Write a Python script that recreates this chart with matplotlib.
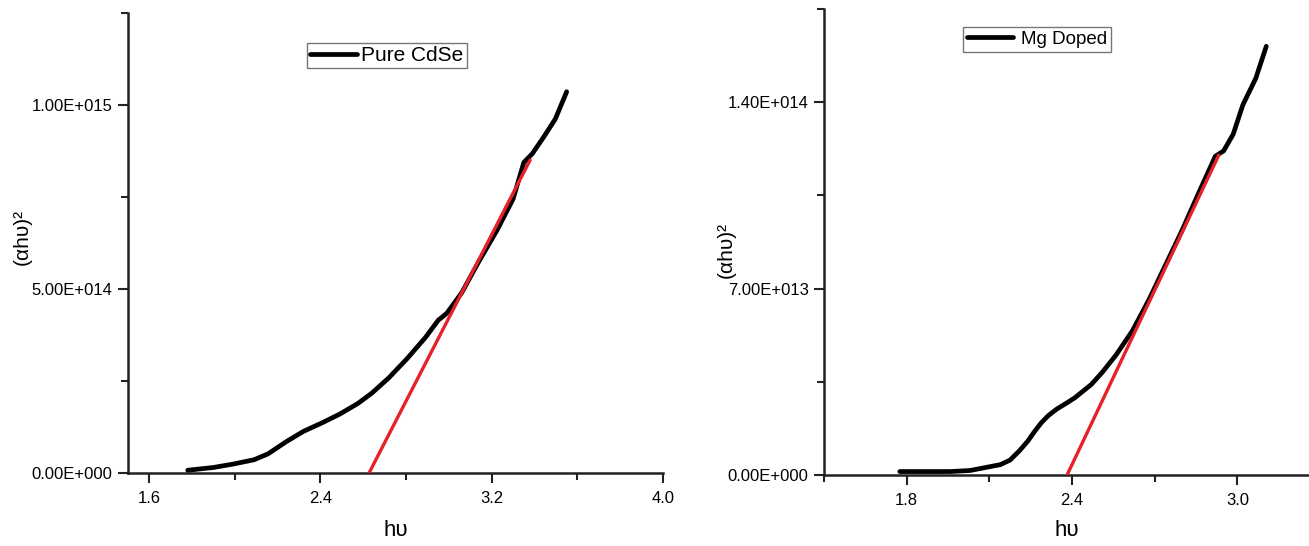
import matplotlib
matplotlib.use('Agg')
import matplotlib.pyplot as plt
from matplotlib.ticker import FixedLocator, MultipleLocator

plt.rcParams['font.family'] = ['Liberation Sans', 'DejaVu Sans']

# --- Pure CdSe (panel izquierdo) ---
pure_hv = [1.78, 1.90, 1.99, 2.09, 2.155, 2.24, 2.32, 2.41, 2.49, 2.575, 2.64,
           2.72, 2.805, 2.89, 2.95, 2.99, 3.06, 3.14, 3.225, 3.30, 3.35, 3.39,
           3.445, 3.497, 3.55]
pure_y = [0.0075e15, 0.015e15, 0.024e15, 0.036e15, 0.052e15, 0.085e15, 0.113e15,
          0.137e15, 0.160e15, 0.189e15, 0.217e15, 0.259e15, 0.311e15, 0.368e15,
          0.415e15, 0.434e15, 0.49e15, 0.575e15, 0.66e15, 0.745e15, 0.844e15,
          0.868e15, 0.915e15, 0.962e15, 1.036e15]
pure_fit_hv = [2.627, 3.378]
pure_fit_y = [0.0, 0.849e15]
pure_yticks = [0.0, 5e14, 1e15]
pure_yticklabels = ['0.00E+000', '5.00E+014', '1.00E+015']
pure_xticks = [1.6, 2.4, 3.2, 4.0]

# --- Mg doped (panel derecho) ---
mg_hv = [1.775, 1.957, 2.03, 2.09, 2.14, 2.175, 2.21, 2.24, 2.265, 2.29, 2.315,
         2.345, 2.38, 2.41, 2.47, 2.51, 2.56, 2.62, 2.68, 2.74, 2.80, 2.86,
         2.92, 2.95, 2.985, 3.02, 3.067, 3.105]
mg_y = [1.3e12, 1.3e12, 1.7e12, 2.9e12, 3.9e12, 5.6e12, 9.2e12, 12.8e12,
        16.5e12, 19.8e12, 22.4e12, 24.8e12, 27.0e12, 29.0e12, 34.0e12,
        38.6e12, 45.1e12, 54.3e12, 66.0e12, 79.0e12, 92.0e12, 106.0e12,
        119.7e12, 121.7e12, 128.0e12, 139.0e12, 149.0e12, 161.0e12]
mg_fit_hv = [2.382, 2.932]
mg_fit_y = [0.0, 120.0e12]
mg_yticks = [0.0, 7e13, 1.4e14]
mg_yticklabels = ['0.00E+000', '7.00E+013', '1.40E+014']
mg_xticks = [1.8, 2.4, 3.0]

RED = '#e62228'
AXCOL = '#222222'

fig = plt.figure(figsize=(13.09, 5.46), dpi=100)
ax1 = fig.add_axes([0.0976, 0.1337, 0.4089, 0.8425])
ax2 = fig.add_axes([0.6295, 0.130, 0.3705, 0.8535])


def estilo(ax, xlim, ylim, xticks, xminor, yticks, ylabels, yminor, ylab_xy, xlab_y):
    ax.set_xlim(*xlim)
    ax.set_ylim(*ylim)
    for s in ('top', 'right'):
        ax.spines[s].set_visible(False)
    for s in ('left', 'bottom'):
        ax.spines[s].set_linewidth(1.8)
        ax.spines[s].set_color(AXCOL)
    ax.xaxis.set_major_locator(FixedLocator(xticks))
    ax.set_xticklabels([f'{t:.1f}' for t in xticks])
    ax.xaxis.set_minor_locator(MultipleLocator(xminor))
    ax.yaxis.set_major_locator(FixedLocator(yticks))
    ax.set_yticklabels(ylabels)
    ax.yaxis.set_minor_locator(MultipleLocator(yminor))
    ax.tick_params(which='major', length=7, width=1.5, labelsize=12, color=AXCOL)
    ax.tick_params(which='minor', length=5, width=1.5, color=AXCOL)
    ax.tick_params(axis='x', which='major', pad=6)
    ax.tick_params(axis='y', which='major', pad=4)
    ax.set_xlabel('h\u03c5', fontsize=16)
    ax.set_ylabel('(\u03b1h\u03c5)\u00b2', fontsize=15)
    ax.yaxis.set_label_coords(*ylab_xy)
    ax.xaxis.set_label_coords(0.5, xlab_y)


ax1.plot(pure_hv, pure_y, color='black', linewidth=3.4, solid_capstyle='round',
         solid_joinstyle='round', label='Pure CdSe', zorder=3)
ax1.plot(pure_fit_hv, pure_fit_y, color=RED, linewidth=2.4, zorder=4)
estilo(ax1, (1.5, 4.0), (0, 1.25e15), pure_xticks, 0.4,
       pure_yticks, pure_yticklabels, 2.5e14, (-0.179, 0.513), -0.102)
leg1 = ax1.legend(loc='upper left', bbox_to_anchor=(0.2345, 0.921),
                  bbox_transform=fig.transFigure, fontsize=15,
                  frameon=True, fancybox=False, handlelength=2.25, handletextpad=0.2,
                  borderpad=0.15, borderaxespad=0)
leg1.get_frame().set_edgecolor('#555555')
leg1.get_frame().set_linewidth(1.0)

ax2.plot(mg_hv, mg_y, color='black', linewidth=3.4, solid_capstyle='round',
         solid_joinstyle='round', label='Mg Doped', zorder=3)
ax2.plot(mg_fit_hv, mg_fit_y, color=RED, linewidth=2.4, zorder=4)
estilo(ax2, (1.5, 3.26), (0, 1.75e14), mg_xticks, 0.3,
       mg_yticks, mg_yticklabels, 3.5e13, (-0.183, 0.483), -0.097)
leg2 = ax2.legend(loc='upper left', bbox_to_anchor=(0.7357, 0.9505),
                  bbox_transform=fig.transFigure, fontsize=13.5,
                  frameon=True, fancybox=False, handlelength=2.45, handletextpad=0.45,
                  borderpad=0.2, borderaxespad=0)
leg2.get_frame().set_edgecolor('#555555')
leg2.get_frame().set_linewidth(1.0)

fig.savefig('out.png', dpi=100)
